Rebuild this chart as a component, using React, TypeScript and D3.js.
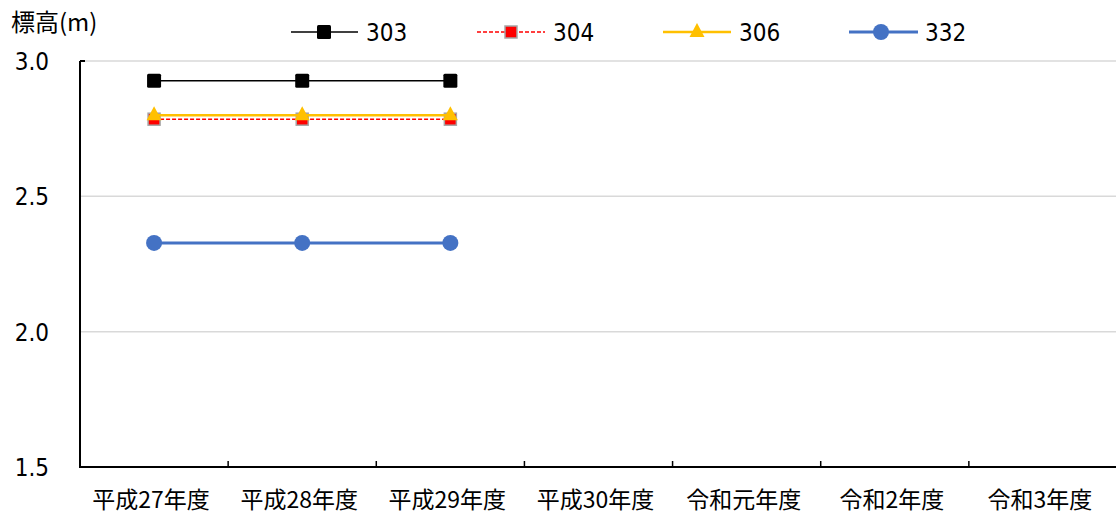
import React from "react";
import * as d3 from "d3";

const categories = ["平成27年度", "平成28年度", "平成29年度", "平成30年度", "令和元年度", "令和2年度", "令和3年度"];
const yTicks = [1.5, 2.0, 2.5, 3.0];
const s303 = [2.927, 2.927, 2.927];
const s304 = [2.785, 2.785, 2.785];
const s306 = [2.8, 2.8, 2.8];
const s332 = [2.328, 2.328, 2.328];

const series = [
  { name: "303", values: s303, color: "#000000", width: 1.5, dash: "", marker: "square" },
  { name: "304", values: s304, color: "#FF0000", width: 1.4, dash: "4,2", marker: "redsquare" },
  { name: "306", values: s306, color: "#FFC000", width: 2.5, dash: "", marker: "triangle" },
  { name: "332", values: s332, color: "#4472C4", width: 3, dash: "", marker: "circle" },
];

const W = 1116, H = 515;
const left = 80, right = 1117, top = 61, bottom = 467;
const CJK = "'Noto Sans CJK JP', 'Noto Sans', sans-serif";
const NUM = "'Liberation Sans Narrow', 'DejaVu Sans Condensed', sans-serif";

function Marker({ type, x, y }: { type: string; x: number; y: number }) {
  if (type === "square") return <rect x={x - 7} y={y - 7} width={14} height={14} rx={1.5} fill="#000" />;
  if (type === "redsquare") return <rect x={x - 6} y={y - 6} width={12} height={12} fill="#FF0000" stroke="#A6A6A6" strokeWidth={1.5} />;
  if (type === "triangle") return <path d={`M${x},${y - 9} L${x + 7.5},${y + 5} L${x - 7.5},${y + 5} Z`} fill="#FFC000" />;
  return <circle cx={x} cy={y} r={8} fill="#4472C4" />;
}

export default function App() {
  const x = d3.scaleBand<string>().domain(categories).range([left, right]);
  const y = d3.scaleLinear().domain([1.5, 3.0]).range([bottom, top]);
  const line = d3.line<number>().x((_, i) => (x(categories[i]) as number) + x.bandwidth() / 2).y((d) => y(d));
  const legendPos = [
    { x1: 291, x2: 358, mx: 324, tx: 366 },
    { x1: 477, x2: 545, mx: 511, tx: 553 },
    { x1: 663, x2: 731, mx: 697, tx: 739 },
    { x1: 849, x2: 918, mx: 881, tx: 925 },
  ];
  return (
    <svg width={W} height={H} style={{ position: "absolute", left: 0, top: 0, background: "#fff" }} fontFamily={CJK}>
      <text x={11} y={31} fontSize={24} fill="#000">標高(m)</text>
      {yTicks.map((t) => (
        <g key={t}>
          {t > 1.5 && <line x1={left} x2={W} y1={y(t)} y2={y(t)} stroke="#D9D9D9" strokeWidth={1.5} />}
          <text x={49} y={y(t) + 9} fontSize={24} fontFamily={NUM} textAnchor="end" fill="#000">{t.toFixed(1)}</text>
        </g>
      ))}
      <line x1={left} x2={left} y1={top} y2={bottom} stroke="#000" strokeWidth={2} />
      <line x1={left} x2={left + 5} y1={top} y2={top} stroke="#000" strokeWidth={2} />
      <line x1={left - 1} x2={W} y1={bottom} y2={bottom} stroke="#000" strokeWidth={2} />
      {categories.slice(1).map((c) => (
        <line key={c} x1={x(c)} x2={x(c)} y1={bottom} y2={bottom - 6} stroke="#000" strokeWidth={1.5} />
      ))}
      {categories.map((c) => (
        <text key={c} x={(x(c) as number) + x.bandwidth() / 2 - 3} y={508} fontSize={23} textAnchor="middle" fill="#000">{c}</text>
      ))}
      {series.map((s) => (
        <g key={s.name}>
          <path d={line(s.values) as string} fill="none" stroke={s.color} strokeWidth={s.width} strokeDasharray={s.dash} />
          {s.values.map((v, i) => (
            <Marker key={i} type={s.marker} x={(x(categories[i]) as number) + x.bandwidth() / 2} y={y(v)} />
          ))}
        </g>
      ))}
      {series.map((s, i) => {
        const p = legendPos[i];
        return (
          <g key={s.name}>
            <line x1={p.x1} x2={p.x2} y1={32} y2={32} stroke={s.color} strokeWidth={s.width} strokeDasharray={s.dash} />
            <Marker type={s.marker} x={p.mx} y={32} />
            <text x={p.tx} y={41} fontSize={24} fontFamily={NUM} fill="#000">{s.name}</text>
          </g>
        );
      })}
    </svg>
  );
}
